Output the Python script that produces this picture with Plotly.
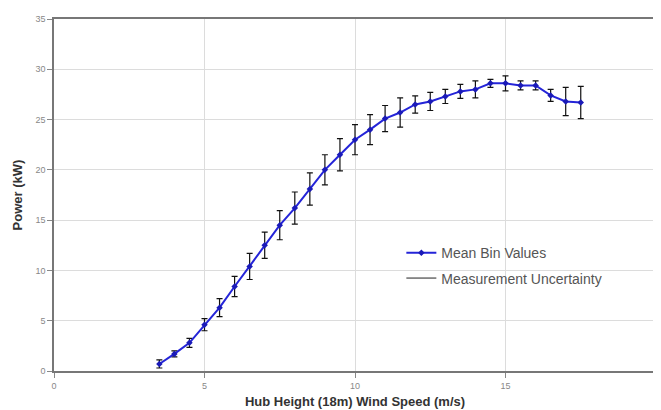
import plotly.graph_objects as go

wind_speed = [3.5, 4.0, 4.5, 5.0, 5.5, 6.0, 6.5, 7.0, 7.5, 8.0, 8.5, 9.0, 9.5, 10.0,
              10.5, 11.0, 11.5, 12.0, 12.5, 13.0, 13.5, 14.0, 14.5, 15.0, 15.5, 16.0,
              16.5, 17.0, 17.5]
mean_power = [0.7, 1.7, 2.8, 4.6, 6.3, 8.4, 10.4, 12.5, 14.5, 16.2, 18.1, 20.0, 21.5, 23.0,
              24.0, 25.1, 25.7, 26.5, 26.8, 27.3, 27.8, 28.0, 28.6, 28.6, 28.4, 28.4,
              27.4, 26.8, 26.7]
uncertainty = [0.4, 0.3, 0.45, 0.6, 0.9, 1.0, 1.3, 1.3, 1.45, 1.6, 1.6, 1.5, 1.6, 1.5,
               1.5, 1.3, 1.45, 0.85, 0.9, 0.7, 0.7, 0.85, 0.4, 0.75, 0.45, 0.45,
               0.6, 1.4, 1.6]

x_ticks = [0, 5, 10, 15, 20]
y_ticks = [0, 5, 10, 15, 20, 25, 30, 35]

FONT = "Arial, Liberation Sans, sans-serif"

fig = go.Figure()
fig.add_trace(go.Scatter(
    x=wind_speed, y=mean_power, mode="lines+markers", name="Mean Bin Values",
    legendgroup="a",
    line=dict(color="#2424d8", width=2),
    marker=dict(symbol="diamond", size=5, color="#1a1ab8"),
    error_y=dict(type="data", array=uncertainty, visible=True,
                 color="#111111", thickness=1.2, width=3),
))
fig.add_trace(go.Scatter(
    x=[None], y=[None], mode="lines", name="Measurement Uncertainty",
    legendgroup="b",
    line=dict(color="#222222", width=1),
))

axis_common = dict(
    showgrid=True, gridcolor="#dcdcdc", gridwidth=1,
    showline=True, linecolor="#777777", linewidth=1.5, mirror=True,
    ticks="outside", ticklen=5, tickcolor="#888888",
    tickfont=dict(family=FONT, size=9, color="#888888"),
    zeroline=False, automargin=False,
)

fig.update_layout(
    width=653, height=402,
    margin=dict(l=46, r=5, t=11, b=39),
    paper_bgcolor="white", plot_bgcolor="white",
    showlegend=True,
    legend=dict(x=0.577, y=0.299, xanchor="left", yanchor="middle",
                bgcolor="rgba(0,0,0,0)",
                font=dict(family=FONT, size=14, color="#555555"),
                tracegroupgap=4, itemwidth=30),
    xaxis=dict(range=[0, 20], tickvals=x_ticks, **axis_common,
               title=dict(text="<b>Hub Height (18m) Wind Speed (m/s)</b>",
                          font=dict(family=FONT, size=13, color="#333333"),
                          standoff=7)),
    yaxis=dict(range=[0, 35], tickvals=y_ticks, **axis_common,
               title=dict(text="<b>Power (kW)</b>",
                          font=dict(family=FONT, size=13, color="#333333"),
                          standoff=10)),
)

fig.write_html("out.html")
